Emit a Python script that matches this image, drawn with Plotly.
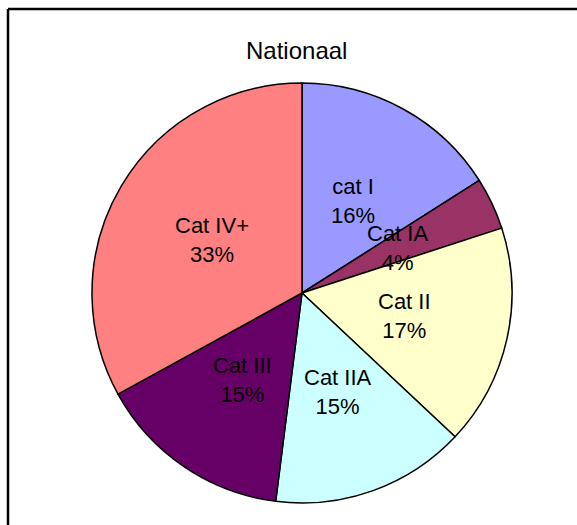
import math
import plotly.graph_objects as go

labels = ["cat I", "Cat IA", "Cat II", "Cat IIA", "Cat III", "Cat IV+"]
values = [16, 4, 17, 15, 15, 33]
colors = ["#9999FF", "#993366", "#FFFFCC", "#CCFFFF", "#660066", "#FF8080"]
title_text = "Nationaal"

W, H = 577, 525
cx, cy, R = 302, 293, 210  # pixel centre / radius of pie

fig = go.Figure()
fig.add_trace(go.Pie(
    labels=labels, values=values, sort=False, direction="clockwise", rotation=0,
    marker=dict(colors=colors, line=dict(color="black", width=1.5)),
    textinfo="none", hoverinfo="label+percent", showlegend=False,
    domain=dict(x=[(cx - R) / W, (cx + R) / W], y=[1 - (cy + R) / H, 1 - (cy - R) / H]),
))

# labels at half radius along mid-angle of each slice
total = sum(values)
cum = 0
for lab, v in zip(labels, values):
    mid = (cum + v / 2) / total * 2 * math.pi
    cum += v
    px = cx + 0.5 * R * math.sin(mid)
    py = cy - 0.5 * R * math.cos(mid)
    fig.add_annotation(
        x=px / W, y=1 - py / H, xref="paper", yref="paper",
        text=f"{lab}<br>{round(v / total * 100)}%", showarrow=False,
        font=dict(family="Liberation Sans, Arial", size=22, color="black"),
        xanchor="center", yanchor="middle",
    )

fig.add_annotation(
    x=296 / W, y=1 - 50 / H, xref="paper", yref="paper", text=title_text,
    showarrow=False, font=dict(family="Liberation Sans, Arial", size=24, color="black"),
    xanchor="center", yanchor="middle",
)

# chart frame (top and left edges visible; right/bottom lie outside the view)
fx, fy = 8, 9
fig.add_shape(type="line", xref="paper", yref="paper", x0=fx / W, x1=1.05, y0=1 - fy / H, y1=1 - fy / H,
              line=dict(color="black", width=2.5))
fig.add_shape(type="line", xref="paper", yref="paper", x0=fx / W, x1=fx / W, y0=1 - fy / H, y1=-0.05,
              line=dict(color="black", width=2.5))

fig.update_layout(
    width=W, height=H, margin=dict(l=0, r=0, t=0, b=0),
    paper_bgcolor="white", plot_bgcolor="white",
)
fig.write_html(
    "out.html",
    config={"displayModeBar": False},
    post_script="document.body.style.margin='0';document.body.style.overflow='hidden';"
                "document.documentElement.style.overflow='hidden';",
)
